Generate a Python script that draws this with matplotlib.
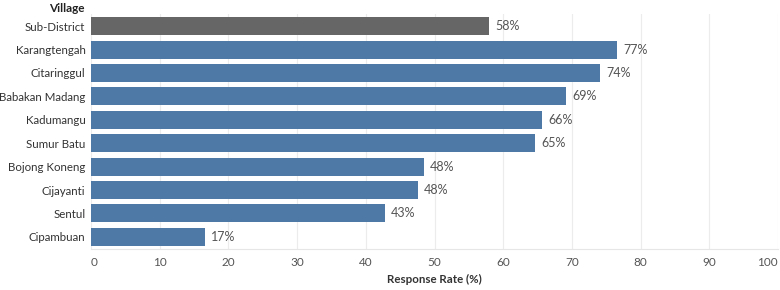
import matplotlib
matplotlib.use("Agg")
import matplotlib.pyplot as plt

villages = ["Sub-District", "Karangtengah", "Citaringgul", "Babakan Madang",
            "Kadumangu", "Sumur Batu", "Bojong Koneng", "Cijayanti",
            "Sentul", "Cipambuan"]
rates = [58.0, 76.6, 74.1, 69.2, 65.7, 64.6, 48.4, 47.6, 42.8, 16.6]
ticks = [0, 10, 20, 30, 40, 50, 60, 70, 80, 90, 100]

BLUE = "#4e79a7"
GRAY = "#666666"
TEXT = "#555555"

plt.rcParams["font.family"] = ["Lato", "DejaVu Sans"]

fig = plt.figure(figsize=(7.8, 2.9), dpi=100)
ax = fig.add_axes([91 / 780, 1 - 249 / 290, 687 / 780, 235 / 290])

colors = [GRAY] + [BLUE] * (len(villages) - 1)
ypos = list(range(len(villages)))
ax.barh(ypos, rates, height=0.77, color=colors, zorder=2)

for y, v in zip(ypos, rates):
    ax.text(v + 0.9, y, f"{v:.0f}%", va="center", ha="left",
            fontsize=9, color=TEXT)

ax.set_xlim(0, 100)
ax.set_ylim(len(villages) - 0.48, -0.52)
ax.set_yticks(ypos)
ax.set_yticklabels(villages, fontsize=8.3, color="#333333")
ax.set_xticks(ticks)
ax.set_xticklabels([str(t) for t in ticks], fontsize=8.5, color=TEXT)
xl = ax.get_xticklabels()
xl[0].set_ha("left")
xl[-1].set_ha("right")
ax.tick_params(axis="both", length=0)
ax.tick_params(axis="x", pad=6)
ax.tick_params(axis="y", pad=4)

ax.grid(axis="x", color="#ececec", lw=0.8, zorder=0)
for s in ("top", "right", "left"):
    ax.spines[s].set_visible(False)
ax.spines["bottom"].set_color("#e6e6e6")
ax.spines["bottom"].set_linewidth(0.8)

ax.set_xlabel("Response Rate (%)", fontsize=8.3, fontweight="bold",
              color="#333333", labelpad=4)
fig.text(85 / 780, 1 - 8 / 290, "Village", ha="right", va="center",
         fontsize=8.5, fontweight="bold", color="#222222")

fig.savefig("out.png", dpi=100)
